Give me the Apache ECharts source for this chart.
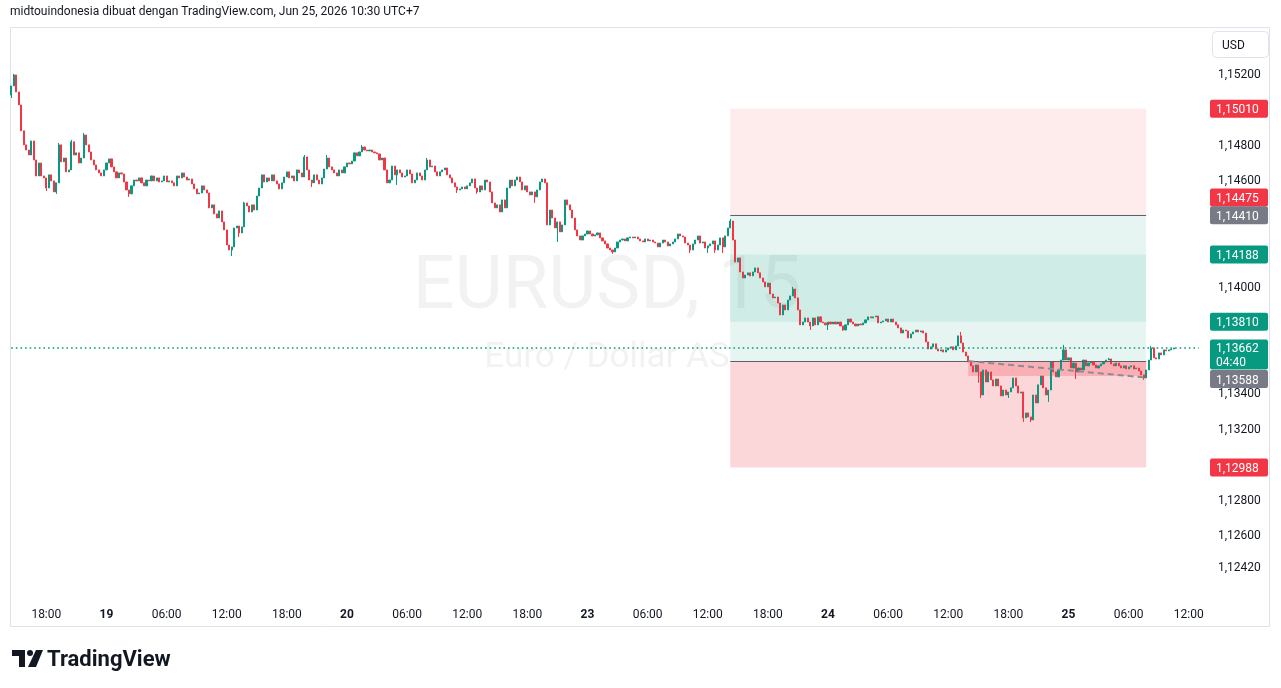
<!DOCTYPE html>
<html><head><meta charset="utf-8">
<script src="https://cdn.jsdelivr.net/npm/echarts@6/dist/echarts.min.js"></script>
<style>html,body{margin:0;padding:0;background:#fff}#c{width:1281px;height:688px}</style>
</head><body><div id="c"></div>
<script>
// ---------- DATA (EURUSD 15m) ----------
const firstOpen = 1.15087;
const closes = [
1.15138,1.15200,1.15104,1.15031,1.14885,1.14806,1.14777,1.14749,1.14828,1.14721,
1.14631,1.14704,1.14631,1.14620,1.14563,1.14637,1.14603,1.14541,1.14592,1.14806,
1.14710,1.14732,1.14654,1.14665,1.14823,1.14749,1.14761,1.14704,1.14732,1.14862,
1.14806,1.14766,1.14721,1.14693,1.14665,1.14648,1.14631,1.14665,
1.14704,1.14727,1.14682,1.14654,1.14620,1.14648,1.14642,1.14597,1.14552,1.14530,
1.14575,1.14608,1.14603,1.14620,1.14592,1.14575,1.14608,1.14603,1.14631,1.14603,
1.14620,1.14597,1.14603,1.14631,1.14597,1.14603,1.14592,1.14575,1.14631,1.14620,
1.14648,1.14625,1.14608,1.14614,1.14586,1.14558,1.14530,1.14535,1.14575,
1.14552,1.14535,1.14451,1.14468,1.14417,1.14394,1.14434,1.14372,1.14327,1.14242,
1.14214,1.14231,1.14338,1.14349,1.14310,1.14344,1.14479,1.14462,1.14428,1.14468,
1.14439,1.14518,1.14563,1.14637,1.14597,1.14620,1.14603,1.14637,1.14603,1.14586,
1.14558,1.14592,1.14625,1.14654,1.14620,1.14631,1.14603,1.14665,
1.14648,1.14625,1.14738,1.14665,1.14608,1.14592,1.14637,1.14608,1.14586,1.14620,
1.14670,1.14732,1.14682,1.14665,1.14648,1.14631,1.14665,1.14648,1.14682,1.14704,
1.14699,1.14715,1.14761,1.14744,1.14766,1.14794,1.14777,1.14772,1.14777,1.14766,
1.14761,1.14755,1.14721,1.14732,1.14665,1.14592,1.14608,1.14687,
1.14637,1.14665,1.14648,1.14625,1.14631,1.14665,1.14642,1.14592,1.14608,1.14648,
1.14631,1.14608,1.14665,1.14721,1.14682,1.14687,1.14654,1.14631,1.14654,1.14665,
1.14676,1.14637,1.14620,1.14592,1.14569,1.14552,1.14558,1.14569,1.14558,1.14575,
1.14592,1.14614,1.14563,1.14541,1.14575,1.14552,1.14608,1.14597,
1.14541,1.14479,1.14451,1.14468,1.14428,1.14496,1.14451,1.14563,1.14608,1.14575,
1.14608,1.14625,1.14597,1.14552,1.14575,1.14541,1.14524,1.14541,1.14513,1.14552,
1.14597,1.14614,1.14592,1.14355,1.14439,1.14394,1.14338,1.14372,1.14316,1.14355,
1.14496,1.14468,1.14439,1.14394,1.14327,1.14293,1.14270,1.14293,1.14304,
1.14321,1.14304,1.14293,1.14299,1.14310,1.14282,1.14265,1.14248,1.14225,1.14214,
1.14203,1.14225,1.14259,1.14270,1.14276,1.14265,1.14282,1.14287,1.14282,1.14287,
1.14276,1.14265,1.14259,1.14276,1.14265,1.14270,1.14259,1.14253,1.14231,1.14253,
1.14270,1.14259,1.14237,1.14248,1.14259,1.14276,1.14304,1.14293,
1.14287,1.14253,1.14242,1.14214,1.14248,1.14270,1.14293,1.14253,1.14259,1.14225,
1.14237,1.14248,1.14265,1.14214,1.14242,1.14282,1.14231,1.14293,1.14338,1.14377,
1.14270,1.14146,1.14169,1.14090,1.14056,1.14073,1.14085,1.14068,1.14090,1.14113,
1.14085,1.14056,1.14034,1.14006,1.14028,1.13966,1.13944,1.13949,
1.13915,1.13848,1.13904,1.13876,1.13932,1.13955,1.13994,1.13944,1.13876,1.13792,
1.13808,1.13831,1.13808,1.13786,1.13831,1.13792,1.13837,1.13808,1.13803,1.13792,
1.13808,1.13797,1.13808,1.13797,1.13808,1.13786,1.13763,1.13792,1.13825,1.13808,
1.13797,1.13786,1.13797,1.13792,1.13803,1.13820,1.13837,1.13831,1.13837,
1.13842,1.13803,1.13808,1.13814,1.13825,1.13808,1.13825,1.13808,1.13792,1.13775,
1.13746,1.13763,1.13758,1.13718,1.13741,1.13752,1.13763,1.13752,1.13758,1.13746,
1.13696,1.13656,1.13668,1.13685,1.13656,1.13645,1.13651,1.13639,1.13651,1.13662,
1.13668,1.13651,1.13673,1.13730,1.13690,1.13639,1.13617,1.13583,
1.13561,1.13527,1.13566,1.13527,1.13397,1.13538,1.13470,1.13527,1.13482,1.13448,
1.13487,1.13448,1.13392,1.13425,1.13397,1.13414,1.13437,1.13493,1.13448,1.13408,
1.13414,1.13268,1.13296,1.13273,1.13256,1.13397,1.13352,1.13454,1.13504,1.13437,
1.13397,1.13425,1.13583,1.13527,1.13499,1.13538,1.13594,1.13651,
1.13594,1.13606,1.13549,1.13577,1.13527,1.13549,1.13538,1.13594,1.13561,1.13577,
1.13583,1.13566,1.13549,1.13561,1.13572,1.13583,1.13594,1.13600,1.13572,1.13561,
1.13577,1.13561,1.13549,1.13561,1.13544,1.13555,1.13561,1.13544,1.13549,1.13532,
1.13510,1.13493,1.13538,1.13594,1.13662,1.13606,1.13600,1.13634,1.13623,1.13651,
1.13645,1.13651,1.13656,1.13662
];
// wick extremes read where they stick out of the body (index -> price)
const wickHighs = {1:1.15206,19:1.14817,24:1.14834,29:1.14873,93:1.14485,117:1.14749,126:1.14749,140:1.14806,166:1.14732,287:1.14389,312:1.14006,379:1.13752,420:1.13679,438:1.13606,455:1.13673};
const wickLows = {0:1.15070,14:1.14546,18:1.14530,47:1.14513,88:1.14180,91:1.14287,120:1.14569,154:1.14580,178:1.14535,186:1.14530,209:1.14479,218:1.14259,240:1.14192,271:1.14197,278:1.14197,281:1.14197,284:1.14197,319:1.13763,326:1.13763,332:1.13758,386:1.13465,387:1.13380,398:1.13380,404:1.13245,407:1.13245,414:1.13358,425:1.13487,452:1.13482};

const totalSlots = 475;
const xTickSlots = [14,38,62,86,110,134,158,182,206,230,254,278,302,326,350,374,398,422,446,470];
const xTickLabels = ['18:00','19','06:00','12:00','18:00','20','06:00','12:00','18:00','23','06:00','12:00','18:00','24','06:00','12:00','18:00','25','06:00','12:00'];
const dayLabels = ['19','20','23','24','25'];
const yTickValues = [1.152,1.148,1.146,1.140,1.134,1.132,1.128,1.126,1.1242];
const yTickLabels = ['1,15200','1,14800','1,14600','1,14000','1,13400','1,13200','1,12800','1,12600','1,12420'];

const priceBadges = [
  {value:1.15010, text:'1,15010', color:'#f23645', dy:0},
  {value:1.14475, text:'1,14475', color:'#f23645', dy:-6},
  {value:1.14410, text:'1,14410', color:'#787b86', dy:0},
  {value:1.14188, text:'1,14188', color:'#089981', dy:0},
  {value:1.13810, text:'1,13810', color:'#089981', dy:0},
  {value:1.13588, text:'1,13588', color:'#787b86', dy:18},
  {value:1.12988, text:'1,12988', color:'#f23645', dy:0}
];
const lastPrice = 1.13662, lastPriceText = '1,13662', countdown = '04:40';

// position tool levels
const boxFrom = 286.5, boxTo = 453;
const shortStop = 1.15010, upperEntry = 1.14410, bandTop = 1.14188, bandBottom = 1.13810, lowerEntry = 1.13588, longStop = 1.12988;
const pnlFrom = 382, pnlPrice = 1.13504, dashEndPrice = 1.13495;

// ---------- CHART ----------
const candleData = closes.map((c, i) => {
  const o = i === 0 ? firstOpen : closes[i - 1];
  const lo = Math.min(o, c, wickLows[i] !== undefined ? wickLows[i] : Infinity);
  const hi = Math.max(o, c, wickHighs[i] !== undefined ? wickHighs[i] : -Infinity);
  return [o, c, lo, hi];
});
const slots = Array.from({length: totalSlots}, (_, i) => String(i));
const tickMap = {};
xTickSlots.forEach((s, k) => tickMap[s] = xTickLabels[k]);

const UP = '#089981', DOWN = '#f23645', TXT = '#131722', FONT = 'Roboto';
const chart = echarts.init(document.getElementById('c'), null, {renderer: 'canvas'});

const option = {
  animation: false,
  backgroundColor: '#ffffff',
  grid: {left: 10, right: 81, top: 27, bottom: 91.2, containLabel: false, outerBoundsMode: 'none'},
  xAxis: {
    type: 'category', data: slots, boundaryGap: true,
    axisLine: {show: false}, axisTick: {show: false}, splitLine: {show: false},
    axisLabel: {
      interval: (i) => tickMap[i] !== undefined,
      formatter: (v, i) => { const t = tickMap[i]; if (t === undefined) return ''; return dayLabels.includes(t) ? '{b|' + t + '}' : t; },
      color: TXT, fontSize: 12, fontFamily: FONT, margin: 12,
      rich: {b: {fontWeight: 'bold', fontSize: 12, color: TXT, fontFamily: FONT}}
    }
  },
  yAxis: {
    type: 'value', position: 'right', min: 1.1226, max: 1.1547, interval: 0.0002,
    splitLine: {show: false}, axisLine: {show: false}, axisTick: {show: false},
    axisLabel: {
      margin: 18, align: 'left', color: TXT, fontSize: 12, fontFamily: FONT, padding: [4, 0, 0, 0],
      formatter: (v) => { const k = yTickValues.findIndex(t => Math.abs(t - v) < 1e-7); return k >= 0 ? yTickLabels[k] : ''; }
    }
  },
  series: [
    {
      type: 'line', data: [], z: 1, silent: true,
      markArea: {
        silent: true,
        data: [
          [{coord: [boxFrom, shortStop], itemStyle: {color: 'rgba(242,54,69,0.1)'}}, {coord: [boxTo, upperEntry]}],
          [{coord: [boxFrom, upperEntry], itemStyle: {color: 'rgba(8,153,129,0.1)'}}, {coord: [boxTo, lowerEntry]}],
          [{coord: [boxFrom, bandTop], itemStyle: {color: 'rgba(8,153,129,0.1)'}}, {coord: [boxTo, bandBottom]}],
          [{coord: [boxFrom, lowerEntry], itemStyle: {color: 'rgba(242,54,69,0.2)'}}, {coord: [boxTo, longStop]}],
          [{coord: [pnlFrom, lowerEntry], itemStyle: {color: 'rgba(242,54,69,0.25)'}}, {coord: [boxTo, pnlPrice]}]
        ]
      },
      markLine: {
        silent: true, symbol: ['none', 'none'], label: {show: false},
        data: [
          [{coord: [boxFrom, upperEntry], lineStyle: {color: '#5d606b', width: 1, type: 'solid'}}, {coord: [boxTo, upperEntry]}],
          [{coord: [boxFrom, lowerEntry], lineStyle: {color: '#5d606b', width: 1, type: 'solid'}}, {coord: [boxTo, lowerEntry]}],
          [{coord: [pnlFrom, lowerEntry], lineStyle: {color: '#8a8d98', width: 2, type: [6, 4]}}, {coord: [boxTo, dashEndPrice]}],
          [{coord: [0, lastPrice], lineStyle: {color: UP, width: 1.6, type: [1.6, 3]}}, {coord: [totalSlots - 1, lastPrice]}]
        ]
      }
    },
    {
      type: 'candlestick', data: candleData, z: 3, silent: true, barWidth: 1.6,
      itemStyle: {color: UP, color0: DOWN, borderColor: UP, borderColor0: DOWN, borderWidth: 1}
    }
  ]
};
chart.setOption(option);

// ---------- overlay texts / badges ----------
const TY = 1.5; // text baseline nudge
const g = [];
g.push({type: 'rect', z: 0, shape: {x: 10.5, y: 27.5, width: 1259, height: 599}, style: {fill: 'none', stroke: '#e0e3eb', lineWidth: 1}, silent: true});
g.push({type: 'text', z: 0, x: 607, y: 289, silent: true, style: {text: 'EURUSD, 15', font: '74px Roboto', fill: 'rgba(19,23,34,0.055)', textAlign: 'center', textVerticalAlign: 'middle'}});
g.push({type: 'text', z: 0, x: 607, y: 358, silent: true, style: {text: 'Euro / Dollar AS', font: '35px Roboto', fill: 'rgba(19,23,34,0.055)', textAlign: 'center', textVerticalAlign: 'middle'}});
g.push({type: 'text', z: 10, x: 10, y: 10 + TY, silent: true, style: {text: 'midtouindonesia dibuat dengan TradingView.com, Jun 25, 2026 10:30 UTC+7', font: '12px Roboto', fill: TXT, textAlign: 'left', textVerticalAlign: 'middle'}});
g.push({type: 'rect', z: 10, shape: {x: 1212.5, y: 31.5, width: 56, height: 26, r: 4}, style: {fill: '#fff', stroke: '#e0e3eb', lineWidth: 1}, silent: true});
g.push({type: 'text', z: 11, x: 1222, y: 44.5 + TY, silent: true, style: {text: 'USD', font: '12px Roboto', fill: TXT, textAlign: 'left', textVerticalAlign: 'middle'}});
// logo
g.push({type: 'polygon', z: 10, silent: true, shape: {points: [[12,650],[25,650],[25,667],[19,667],[19,656],[12,656]]}, style: {fill: TXT}});
g.push({type: 'circle', z: 10, silent: true, shape: {cx: 30, cy: 653, r: 3}, style: {fill: TXT}});
g.push({type: 'polygon', z: 10, silent: true, shape: {points: [[36,650],[43,650],[36,667],[28,667]]}, style: {fill: TXT}});
g.push({type: 'text', z: 10, x: 47, y: 658.5 + TY, silent: true, style: {text: 'TradingView', font: 'bold 22px Roboto', fill: TXT, textAlign: 'left', textVerticalAlign: 'middle'}});

priceBadges.forEach(b => {
  const y = chart.convertToPixel({yAxisIndex: 0}, b.value) + b.dy;
  g.push({type: 'rect', z: 20, silent: true, shape: {x: 1210, y: y - 9, width: 58, height: 18, r: 2}, style: {fill: b.color}});
  g.push({type: 'text', z: 21, x: 1216, y: y + TY, silent: true, style: {text: b.text, font: '12px Roboto', fill: '#fff', textAlign: 'left', textVerticalAlign: 'middle'}});
});
{
  const y = chart.convertToPixel({yAxisIndex: 0}, lastPrice);
  g.push({type: 'rect', z: 20, silent: true, shape: {x: 1210, y: y - 8.5, width: 58, height: 30, r: 2}, style: {fill: UP}});
  g.push({type: 'text', z: 21, x: 1216, y: y + TY, silent: true, style: {text: lastPriceText, font: '12px Roboto', fill: '#fff', textAlign: 'left', textVerticalAlign: 'middle'}});
  g.push({type: 'text', z: 21, x: 1216, y: y + 14 + TY, silent: true, style: {text: countdown, font: '12px Roboto', fill: '#fff', textAlign: 'left', textVerticalAlign: 'middle'}});
}
chart.setOption({graphic: g});
</script>
</body></html>
